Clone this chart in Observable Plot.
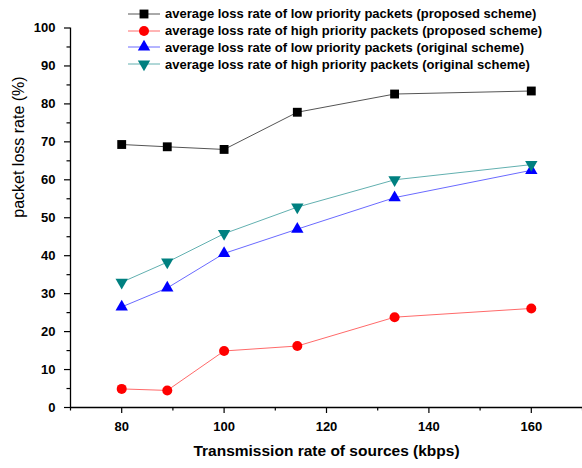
<!DOCTYPE html>
<html>
<head>
<meta charset="utf-8">
<script src="https://cdn.jsdelivr.net/npm/d3@7"></script>
<script src="https://cdn.jsdelivr.net/npm/@observablehq/plot@0.6"></script>
<style>
  html, body { margin: 0; padding: 0; background: #fff; }
  #wrap { position: relative; width: 582px; height: 468px; font-family: "Liberation Sans", Arial, sans-serif; }
  #legend { position: absolute; left: 126px; top: 5.5px; }
  .row { display: flex; align-items: center; height: 16.8px; }
  .row svg { display: block; }
  .row span { font-weight: bold; font-size: 13px; color: #000; margin-left: 3px; white-space: nowrap; }
</style>
</head>
<body>
<div id="wrap"><div id="legend"></div></div>
<script>
// ---- data ----
const xValues = [80, 88.9, 100, 114.3, 133.3, 160];
const lowProposed  = [69.3, 68.7, 68.0, 77.8, 82.6, 83.4];
const highProposed = [4.9, 4.5, 14.9, 16.2, 23.8, 26.1];
const lowOriginal  = [26.5, 31.5, 40.6, 47.0, 55.3, 62.5];
const highOriginal = [33.0, 38.3, 45.8, 52.8, 60.0, 64.0];
const seriesNames = [
  "average loss rate of low priority packets (proposed scheme)",
  "average loss rate of high priority packets (proposed scheme)",
  "average loss rate of low priority packets (original scheme)",
  "average loss rate of high priority packets (original scheme)"
];
const xDomain = [70, 170];
const yDomain = [0, 100];
const xMajorTicks = [80, 100, 120, 140, 160];
const xMinorTicks = [70, 90, 110, 130, 150, 170];
const yMajorTicks = [0, 10, 20, 30, 40, 50, 60, 70, 80, 90, 100];
const yMinorTicks = [5, 15, 25, 35, 45, 55, 65, 75, 85, 95];
const xLabel = "Transmission rate of sources (kbps)";
const yLabel = "packet loss rate (%)";

// ---- styles ----
const styles = [
  {values: lowProposed,  symbol: "square",   rotate: 0,   r: 5.0, fill: "#000000", line: "#555555"},
  {values: highProposed, symbol: "circle",   rotate: 0,   r: 5.0, fill: "#ff0000", line: "#ff6a6a"},
  {values: lowOriginal,  symbol: "triangle", rotate: 0,   r: 4.6, fill: "#0000ff", line: "#6a6aff"},
  {values: highOriginal, symbol: "triangle", rotate: 180, r: 4.6, fill: "#008080", line: "#62b0b0"}
];

const seriesMarks = styles.flatMap((s, i) => {
  const data = xValues.map((x, j) => ({x, y: s.values[j], name: seriesNames[i]}));
  return [
    Plot.line(data, {x: "x", y: "y", stroke: s.line, strokeWidth: 1}),
    Plot.dot(data, {x: "x", y: "y", symbol: s.symbol, r: s.r, fill: s.fill, stroke: "none", rotate: s.rotate})
  ];
});

const chart = Plot.plot({
  width: 582,
  height: 468,
  marginLeft: 70,
  marginRight: 0,
  marginTop: 27.5,
  marginBottom: 61,
  style: {fontFamily: "'Liberation Sans', Arial, sans-serif", background: "#fff", color: "#000"},
  x: {domain: xDomain},
  y: {domain: yDomain},
  marks: [
    Plot.axisY({ticks: yMajorTicks, tickSize: 6, tickPadding: 9, fontSize: 13, fontWeight: "bold", label: null, strokeWidth: 1.2}),
    Plot.axisY({ticks: yMinorTicks, tickSize: 3.5, text: null, label: null, strokeWidth: 1.2}),
    Plot.axisX({ticks: xMajorTicks, tickSize: 6, tickPadding: 8, fontSize: 13, fontWeight: "bold", label: null, strokeWidth: 1.2}),
    Plot.axisX({ticks: xMinorTicks, tickSize: 3.5, text: null, label: null, strokeWidth: 1.2}),
    Plot.ruleX([xDomain[0]], {stroke: "#000", strokeWidth: 1.3}),
    Plot.ruleY([yDomain[0]], {stroke: "#000", strokeWidth: 1.3}),
    Plot.text([xLabel], {frameAnchor: "bottom", dy: 48, fontSize: 15.5, fontWeight: "bold", fill: "#000"}),
    Plot.text([yLabel], {frameAnchor: "left", dx: -52, rotate: -90, fontSize: 16, fill: "#000"}),
    ...seriesMarks
  ]
});
document.getElementById("wrap").prepend(chart);

// ---- legend ----
const legend = d3.select("#legend");
styles.forEach((s, i) => {
  const row = legend.append("div").attr("class", "row");
  const svg = row.append("svg").attr("width", 36).attr("height", 16);
  svg.append("line").attr("x1", 2).attr("x2", 34).attr("y1", 8).attr("y2", 8)
    .attr("stroke", s.line).attr("stroke-width", 1);
  const sym = s.symbol === "square" ? d3.symbolSquare : s.symbol === "circle" ? d3.symbolCircle : d3.symbolTriangle;
  svg.append("path").attr("d", d3.symbol(sym, s.r * s.r * Math.PI)())
    .attr("transform", `translate(18,8) rotate(${s.rotate})`).attr("fill", s.fill);
  row.append("span").text(seriesNames[i]);
});
</script>
</body>
</html>
